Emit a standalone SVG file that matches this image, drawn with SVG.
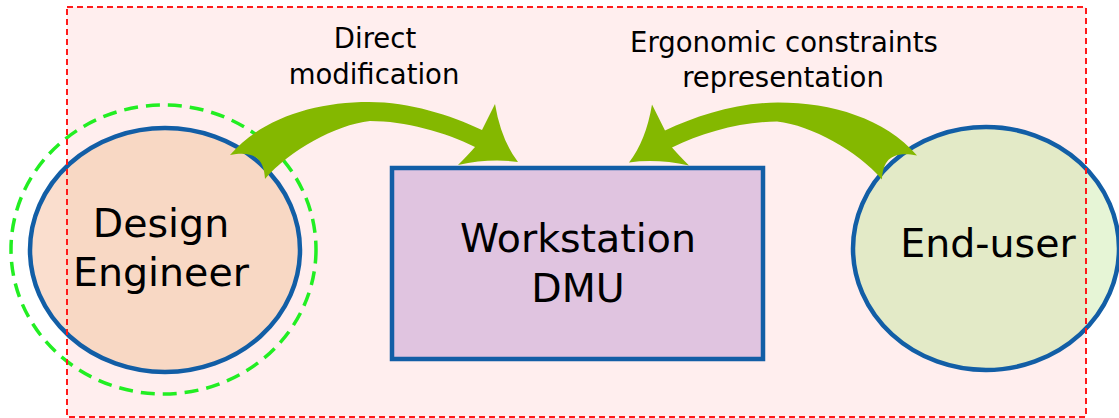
<svg xmlns="http://www.w3.org/2000/svg" width="1119" height="418" viewBox="0 0 1119 418">
  <style>
    .node-stroke { stroke: #125EA6; stroke-width: 4.5; }
    .big { font-family: "DejaVu Sans", Verdana, sans-serif; font-size: 39.5px; fill: #000; text-anchor: middle; }
    .lbl { font-family: "DejaVu Sans", Verdana, sans-serif; font-size: 27.5px; fill: #000; text-anchor: middle; }
    .arrow { fill: #84B800; }
  </style>
  <defs>
    <clipPath id="inside">
      <rect x="67" y="7" width="1019" height="410"/>
    </clipPath>
  </defs>
  <rect x="0" y="0" width="1119" height="418" fill="#FFFFFF"/>
  <rect id="frame-bg" x="67" y="7" width="1019" height="410" fill="#FFEEEE"/>

  <g id="design-engineer">
    <ellipse cx="163.5" cy="249.5" rx="152.5" ry="144.5" fill="none" stroke="#22EE22" stroke-width="3.5" stroke-dasharray="14 8"/>
    <ellipse cx="165" cy="250" rx="135" ry="122" fill="#FADECE"/>
    <ellipse cx="165" cy="250" rx="135" ry="122" fill="#F8D8C4" clip-path="url(#inside)"/>
    <ellipse cx="165" cy="250" rx="135" ry="122" fill="none" class="node-stroke"/>
    <text class="big" x="161" y="237">Design</text>
    <text class="big" x="161" y="286">Engineer</text>
  </g>

  <g id="workstation-dmu">
    <rect x="392" y="168" width="371" height="191" fill="#E0C4E0" class="node-stroke"/>
    <text class="big" x="578" y="252">Workstation</text>
    <text class="big" x="578" y="302">DMU</text>
  </g>

  <g id="end-user">
    <ellipse cx="986" cy="248.5" rx="133" ry="121.5" fill="#E6F5D6"/>
    <ellipse cx="986" cy="248.5" rx="133" ry="121.5" fill="#E3EAC7" clip-path="url(#inside)"/>
    <ellipse cx="986" cy="248.5" rx="133" ry="121.5" fill="none" class="node-stroke"/>
    <text class="big" x="988" y="257">End-user</text>
  </g>

  <g id="connectors">
    <path id="arrow-direct" class="arrow" d="M230,155 C262,118 315,102 369,102 C410,102 450,115 482,130 L495,104 Q501,140 518,162 Q490,158 458,165 Q468,155 475,147 C445,132 405,121 370,121 C335,125 290,150 265,179 C264,162 258,150 230,155 Z"/>
    <path id="arrow-ergonomic" class="arrow" transform="matrix(-1,0,0,1,1147,0.5)" d="M230,155 C262,118 315,102 369,102 C410,102 450,115 482,130 L495,104 Q501,140 518,162 Q490,158 458,165 Q468,155 475,147 C445,132 405,121 370,121 C335,125 290,150 265,179 C264,162 258,150 230,155 Z"/>
  </g>

  <g id="labels">
    <text class="lbl" x="375" y="48">Direct</text>
    <text class="lbl" x="374" y="84">modification</text>
    <text class="lbl" x="784" y="51.5">Ergonomic constraints</text>
    <text class="lbl" x="783" y="87">representation</text>
  </g>

  <rect id="frame" x="67" y="7" width="1019" height="410" fill="none" stroke="#FF1A1A" stroke-width="2" stroke-dasharray="6 4"/>
</svg>
